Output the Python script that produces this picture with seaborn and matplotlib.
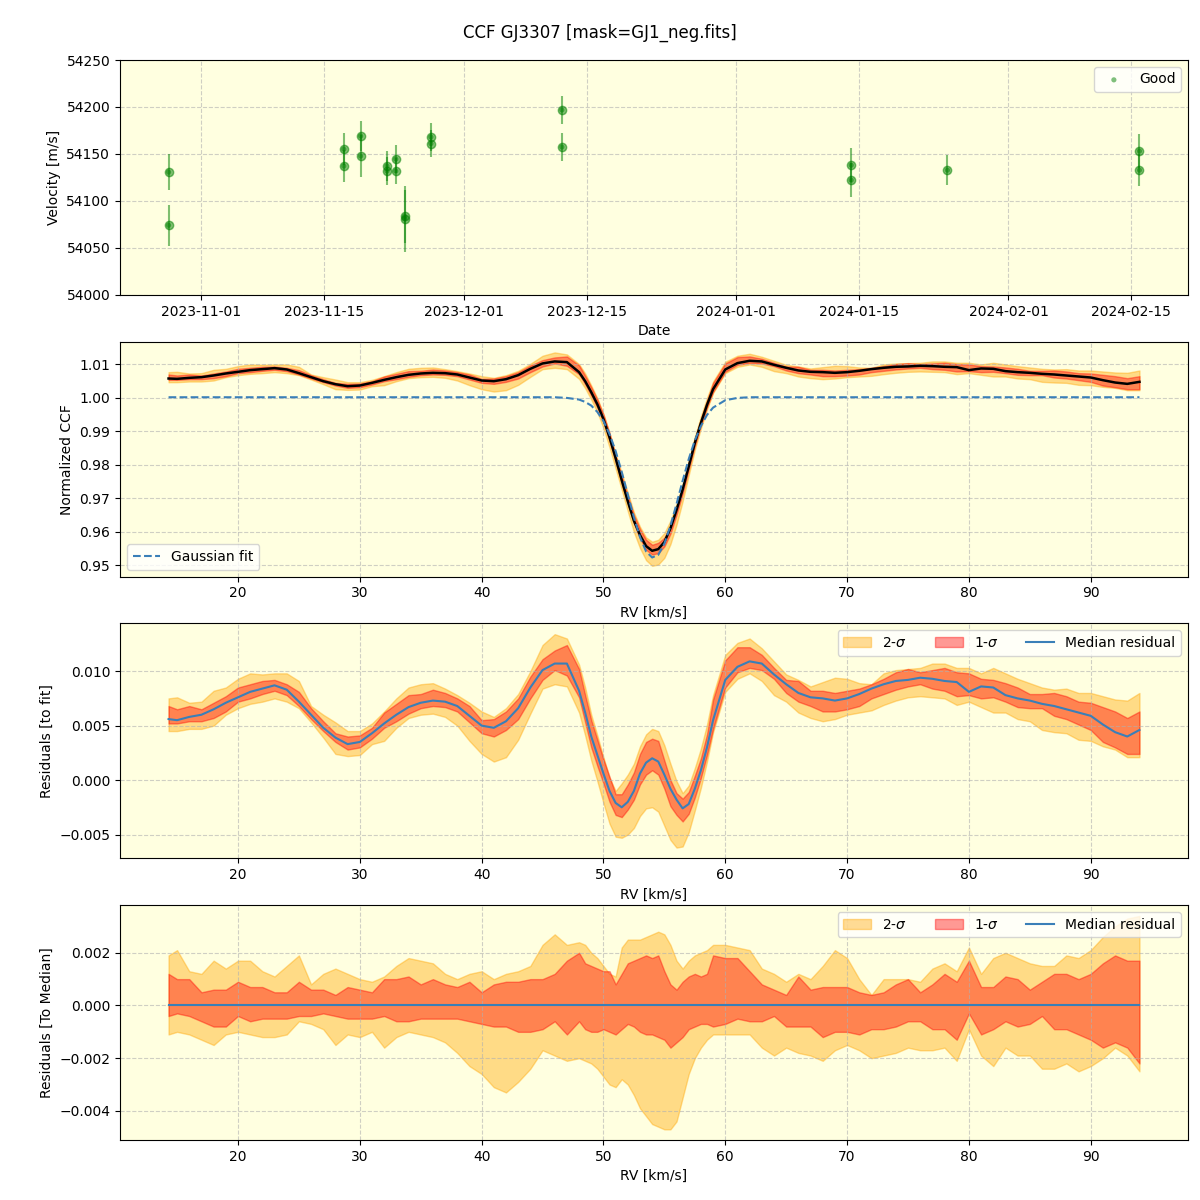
import numpy as np
import pandas as pd
import seaborn as sns
import matplotlib.pyplot as plt
import matplotlib.dates as mdates

# velocity time series
obs_time = pd.to_datetime([
    '2023-10-28 08:00', '2023-10-28 08:00',
    '2023-11-17 07:00', '2023-11-17 07:00',
    '2023-11-19 05:00', '2023-11-19 05:00',
    '2023-11-22 05:00', '2023-11-22 05:00',
    '2023-11-23 05:00', '2023-11-23 05:00',
    '2023-11-24 05:00', '2023-11-24 05:00',
    '2023-11-27 05:00', '2023-11-27 05:00',
    '2023-12-12 03:00', '2023-12-12 03:00',
    '2024-01-14 02:00', '2024-01-14 02:00',
    '2024-01-25 01:00',
    '2024-02-15 22:00', '2024-02-15 22:00',
])
vel = [54130.6, 54074.0, 54155.0, 54137.0, 54169.0, 54147.7, 54137.0, 54131.7,
       54144.5, 54131.7, 54083.6, 54080.8, 54168.0, 54161.0, 54196.8, 54157.3,
       54138.0, 54122.0, 54132.7, 54153.0, 54132.7]
vel_err = [19, 22, 17, 17, 16, 22, 16, 15, 15, 14, 28, 35, 15, 14, 15, 15,
           18, 18, 16, 18, 17]

# CCF grid [km/s]
rv = [14.3, 15, 16, 17, 18, 19, 20, 21, 22, 23, 24, 25, 26, 27, 28, 29, 30,
      31, 32, 33, 34, 35, 36, 37, 38, 39, 40, 41, 42, 43, 44, 45, 46, 47, 48,
      48.5, 49, 49.5, 50, 50.5, 51, 51.5, 52, 52.5, 53, 53.5, 54, 54.5, 55,
      55.5, 56, 56.5, 57, 57.5, 58, 58.5, 59,
      60, 61, 62, 63, 64, 65, 66, 67, 68, 69, 70, 71, 72, 73, 74, 75, 76, 77,
      78, 79, 80, 81, 82, 83, 84, 85, 86, 87, 88, 89, 90, 91, 92, 93, 94]

gauss_fit = [1.0002, 1.0002, 1.0002, 1.0002, 1.0002, 1.0002, 1.0002, 1.0002,
             1.0002, 1.0002, 1.0002, 1.0002, 1.0002, 1.0002, 1.0002, 1.0002,
             1.0002, 1.0002, 1.0002, 1.0002, 1.0002, 1.0002, 1.0002, 1.0002,
             1.0002, 1.0002, 1.0002, 1.0002, 1.0002, 1.0002, 1.0002, 1.0002,
             1.0002, 1.0000, 0.9995,
             0.9988, 0.9977, 0.9958, 0.9931, 0.9892, 0.9841, 0.9779, 0.9711,
             0.9643, 0.9584, 0.9541, 0.9523, 0.9531, 0.9564, 0.9618, 0.9683,
             0.9752, 0.9817, 0.9873, 0.9916, 0.9949, 0.9971,
             0.9993, 1.0000, 1.0002, 1.0002, 1.0002, 1.0002, 1.0002, 1.0002,
             1.0002, 1.0002, 1.0002, 1.0002, 1.0002, 1.0002, 1.0002, 1.0002,
             1.0002, 1.0002, 1.0002, 1.0002, 1.0002, 1.0002, 1.0002, 1.0002,
             1.0002, 1.0002, 1.0002, 1.0002, 1.0002, 1.0002, 1.0002, 1.0002,
             1.0002, 1.0002, 1.0002]

# median residual to the fit
med_resid = [0.0056, 0.0055, 0.0058, 0.0060, 0.0065, 0.0071, 0.0076, 0.0081,
             0.0084, 0.0087, 0.0083, 0.0072, 0.0060, 0.0048, 0.0039, 0.0033,
             0.0035, 0.0043, 0.0052, 0.0060, 0.0067, 0.0071, 0.0073, 0.0072,
             0.0068, 0.0059, 0.0050, 0.0048, 0.0054, 0.0066, 0.0085, 0.0101,
             0.0107, 0.0107, 0.0082,
             0.0062, 0.0040, 0.0023, 0.0006, -0.0010, -0.0021, -0.0025,
             -0.0020, -0.0010, 0.0006, 0.0016, 0.0020, 0.0017, 0.0005,
             -0.0008, -0.0018, -0.0026, -0.0022, -0.0008, 0.0009, 0.0030,
             0.0055,
             0.0092, 0.0104, 0.0109, 0.0107, 0.0097, 0.0088, 0.0080, 0.0076,
             0.0075, 0.0073, 0.0075, 0.0079, 0.0084, 0.0088, 0.0091, 0.0092,
             0.0094, 0.0093, 0.0091, 0.0090, 0.0081, 0.0086, 0.0085, 0.0078,
             0.0075, 0.0073, 0.0070, 0.0068, 0.0065, 0.0062, 0.0059, 0.0051,
             0.0044, 0.0040, 0.0046]

# percentile offsets relative to the median
hi2 = [0.0019, 0.0021, 0.0013, 0.0012, 0.0017, 0.0014, 0.0017, 0.0017, 0.0013,
       0.0011, 0.0015, 0.0019, 0.0008, 0.0012, 0.0014, 0.0012, 0.0010, 0.0009,
       0.0011, 0.0015, 0.0018, 0.0017, 0.0016, 0.0012, 0.0010, 0.0012, 0.0013,
       0.0010, 0.0012, 0.0013, 0.0015, 0.0023, 0.0027, 0.0023, 0.0024,
       0.0023, 0.0020, 0.0018, 0.0015, 0.0012, 0.0011, 0.0022, 0.0025, 0.0025,
       0.0025, 0.0026, 0.0027, 0.0028, 0.0027, 0.0023, 0.0017, 0.0014, 0.0017,
       0.0019, 0.0020, 0.0021, 0.0023,
       0.0023, 0.0022, 0.0021, 0.0014, 0.0012, 0.0009, 0.0012, 0.0010, 0.0015,
       0.0021, 0.0018, 0.0010, 0.0004, 0.0010, 0.0010, 0.0010, 0.0009, 0.0014,
       0.0016, 0.0013, 0.0022, 0.0012, 0.0018, 0.0020, 0.0018, 0.0016, 0.0015,
       0.0015, 0.0019, 0.0018, 0.0021, 0.0026, 0.0030, 0.0033, 0.0034]

hi1 = [0.0012, 0.0010, 0.0010, 0.0005, 0.0006, 0.0006, 0.0009, 0.0007, 0.0007,
       0.0005, 0.0005, 0.0009, 0.0006, 0.0006, 0.0004, 0.0007, 0.0006, 0.0005,
       0.0010, 0.0010, 0.0011, 0.0008, 0.0010, 0.0008, 0.0007, 0.0009, 0.0005,
       0.0008, 0.0009, 0.0009, 0.0010, 0.0010, 0.0012, 0.0017, 0.0020,
       0.0016, 0.0015, 0.0014, 0.0013, 0.0013, 0.0008, 0.0012, 0.0016, 0.0017,
       0.0018, 0.0019, 0.0018, 0.0019, 0.0013, 0.0008, 0.0006, 0.0009, 0.0011,
       0.0012, 0.0011, 0.0012, 0.0019,
       0.0018, 0.0018, 0.0013, 0.0008, 0.0006, 0.0004, 0.0011, 0.0006, 0.0007,
       0.0007, 0.0007, 0.0005, 0.0004, 0.0005, 0.0008, 0.0010, 0.0005, 0.0008,
       0.0012, 0.0009, 0.0017, 0.0007, 0.0007, 0.0011, 0.0010, 0.0006, 0.0009,
       0.0012, 0.0012, 0.0010, 0.0012, 0.0016, 0.0019, 0.0017, 0.0017]

lo1 = [-0.0004, -0.0003, -0.0004, -0.0006, -0.0008, -0.0008, -0.0004, -0.0006,
       -0.0005, -0.0005, -0.0005, -0.0004, -0.0004, -0.0003, -0.0004, -0.0005,
       -0.0005, -0.0005, -0.0004, -0.0006, -0.0006, -0.0005, -0.0005, -0.0005,
       -0.0005, -0.0006, -0.0007, -0.0008, -0.0008, -0.0010, -0.0010, -0.0009,
       -0.0006, -0.0011, -0.0006,
       -0.0009, -0.0010, -0.0010, -0.0009, -0.0010, -0.0011, -0.0009, -0.0007,
       -0.0008, -0.0010, -0.0011, -0.0011, -0.0012, -0.0013, -0.0016, -0.0014,
       -0.0012, -0.0009, -0.0008, -0.0007, -0.0007, -0.0008,
       -0.0007, -0.0005, -0.0006, -0.0006, -0.0004, -0.0008, -0.0008, -0.0008,
       -0.0012, -0.0010, -0.0010, -0.0011, -0.0009, -0.0009, -0.0008, -0.0006,
       -0.0006, -0.0009, -0.0009, -0.0013, -0.0003, -0.0011, -0.0009, -0.0006,
       -0.0008, -0.0007, -0.0004, -0.0009, -0.0009, -0.0011, -0.0013, -0.0016,
       -0.0014, -0.0016, -0.0022]

lo2 = [-0.0011, -0.0010, -0.0011, -0.0013, -0.0015, -0.0011, -0.0010, -0.0011,
       -0.0012, -0.0012, -0.0011, -0.0006, -0.0007, -0.0009, -0.0015, -0.0011,
       -0.0012, -0.0010, -0.0016, -0.0012, -0.0010, -0.0011, -0.0012, -0.0014,
       -0.0018, -0.0023, -0.0026, -0.0031, -0.0033, -0.0029, -0.0024, -0.0017,
       -0.0019, -0.0021, -0.0020,
       -0.0021, -0.0022, -0.0024, -0.0027, -0.0030, -0.0031, -0.0028, -0.0030,
       -0.0034, -0.0039, -0.0042, -0.0045, -0.0046, -0.0047, -0.0047, -0.0044,
       -0.0035, -0.0026, -0.0020, -0.0016, -0.0013, -0.0011,
       -0.0011, -0.0011, -0.0011, -0.0016, -0.0019, -0.0016, -0.0018, -0.0019,
       -0.0021, -0.0017, -0.0015, -0.0017, -0.0020, -0.0019, -0.0018, -0.0016,
       -0.0017, -0.0017, -0.0016, -0.0021, -0.0009, -0.0019, -0.0023, -0.0016,
       -0.0019, -0.0019, -0.0024, -0.0024, -0.0022, -0.0025, -0.0023, -0.0020,
       -0.0016, -0.0019, -0.0025]

rv = np.array(rv)
gauss_fit = np.array(gauss_fit)
med_resid = np.array(med_resid)
hi2, hi1 = np.array(hi2), np.array(hi1)
lo1, lo2 = np.array(lo1), np.array(lo2)

bg = 'lightyellow'
band2 = dict(color='orange', alpha=0.4)
band1 = dict(color='red', alpha=0.4)
line_blue = '#3a7fb8'

fig, axes = plt.subplots(4, 1, figsize=(12, 12))
fig.subplots_adjust(left=0.1, right=0.99, top=0.95, bottom=0.05, hspace=0.2)
fig.suptitle('CCF GJ3307 [mask=GJ1_neg.fits]', fontsize=12)

# panel 1: velocities
ax = axes[0]
ax.set_facecolor(bg)
ax.errorbar(obs_time, vel, yerr=vel_err, fmt='o', color='green', alpha=0.5)
sns.scatterplot(x=obs_time, y=vel, color='green', s=14, alpha=0.5,
                edgecolor='none', label='Good', ax=ax)
ax.set_ylim(54000, 54250)
ax.xaxis.set_major_locator(mdates.DayLocator(bymonthday=[1, 15]))
ax.xaxis.set_major_formatter(mdates.DateFormatter('%Y-%m-%d'))
ax.set_xlabel('Date')
ax.set_ylabel('Velocity [m/s]')
ax.grid(True, linestyle='--', alpha=0.6)
ax.legend(loc='upper right')

# panel 2: normalized CCF
ccf_med = gauss_fit + med_resid
ax = axes[1]
ax.set_facecolor(bg)
ax.fill_between(rv, ccf_med + lo2, ccf_med + hi2, **band2)
ax.fill_between(rv, ccf_med + lo1, ccf_med + hi1, **band1)
sns.lineplot(x=rv, y=ccf_med, color='black', lw=1.8, ax=ax)
sns.lineplot(x=rv, y=gauss_fit, color=line_blue, lw=1.5, linestyle='--',
             label='Gaussian fit', ax=ax)
ax.set_xlabel('RV [km/s]')
ax.set_ylabel('Normalized CCF')
ax.grid(True, linestyle='--', alpha=0.6)
ax.legend(loc='lower left')

# panel 3: residuals to the fit
ax = axes[2]
ax.set_facecolor(bg)
ax.fill_between(rv, med_resid + lo2, med_resid + hi2, label=r'2-$\sigma$', **band2)
ax.fill_between(rv, med_resid + lo1, med_resid + hi1, label=r'1-$\sigma$', **band1)
sns.lineplot(x=rv, y=med_resid, color=line_blue, lw=1.5,
             label='Median residual', ax=ax)
ax.set_xlabel('RV [km/s]')
ax.set_ylabel('Residuals [to fit]')
ax.grid(True, linestyle='--', alpha=0.6)
ax.legend(loc='upper right', ncol=3)

# panel 4: residuals to the median
zero = med_resid - med_resid
ax = axes[3]
ax.set_facecolor(bg)
ax.fill_between(rv, lo2, hi2, label=r'2-$\sigma$', **band2)
ax.fill_between(rv, lo1, hi1, label=r'1-$\sigma$', **band1)
sns.lineplot(x=rv, y=zero, color=line_blue, lw=1.5,
             label='Median residual', ax=ax)
ax.set_xlabel('RV [km/s]')
ax.set_ylabel('Residuals [To Median]')
ax.grid(True, linestyle='--', alpha=0.6)
ax.legend(loc='upper right', ncol=3)

plt.savefig('out.png', dpi=100)
